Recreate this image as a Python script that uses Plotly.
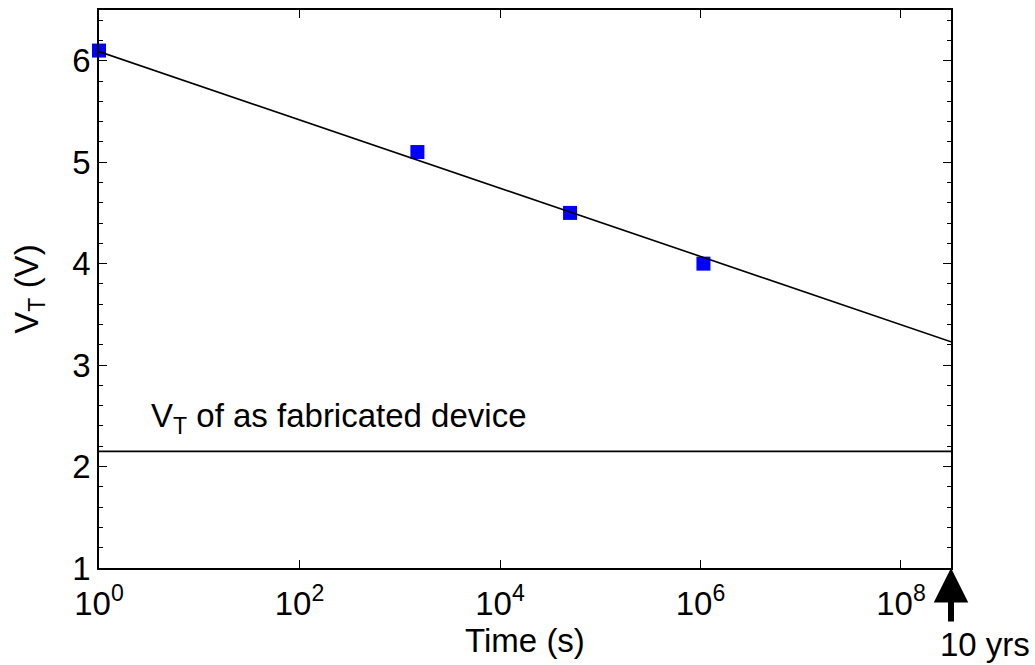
import numpy as np
import plotly.graph_objects as go

# Measured threshold voltage vs. retention time
time_s = [1, 1500, 50000, 1.07e6]
vt_v = [6.1, 5.1, 4.5, 4.0]

# Logarithmic fit, extrapolated to ten years
fit_time_s = [1, 3.1536e8]
fit_vt_v = [6.09, 3.23]

# Threshold voltage of the as-fabricated device
fab_time_s = [1, 3.1536e8]
fab_vt_v = [2.15, 2.15]

ten_years_s = 3.1536e8

x_tickvals = [1, 1e2, 1e4, 1e6, 1e8]
x_ticktext = ["10<sup>0</sup>", "10<sup>2</sup>", "10<sup>4</sup>",
              "10<sup>6</sup>", "10<sup>8</sup>"]
y_tickvals = [1, 2, 3, 4, 5, 6]

FONT = "Liberation Sans, Arial, sans-serif"
FS = 33

fig = go.Figure()

fig.add_trace(go.Scatter(
    x=time_s, y=vt_v, mode="markers",
    marker=dict(symbol="square", size=14, color="#0000ff",
                line=dict(width=0)),
    cliponaxis=False, showlegend=False,
))
fig.add_trace(go.Scatter(
    x=fit_time_s, y=fit_vt_v, mode="lines",
    line=dict(color="black", width=1.6), showlegend=False,
))
fig.add_trace(go.Scatter(
    x=fab_time_s, y=fab_vt_v, mode="lines",
    line=dict(color="black", width=1.6), showlegend=False,
))

fig.update_xaxes(
    type="log", range=[0, np.log10(ten_years_s)],
    tickvals=x_tickvals, ticktext=x_ticktext,
    ticks="inside", ticklen=8, tickwidth=1, tickcolor="black",
    ticklabelstandoff=6,
    showline=True, linecolor="black", linewidth=1.5, mirror="ticks",
    showgrid=False, zeroline=False,
    tickfont=dict(family=FONT, size=FS, color="black"),
    title=dict(text="Time (s)", font=dict(family=FONT, size=FS, color="black"),
               standoff=2),
)
fig.update_yaxes(
    range=[1, 6.5], tickvals=y_tickvals,
    ticks="inside", ticklen=8, tickwidth=1, tickcolor="black",
    minor=dict(dtick=0.2, ticks="inside", ticklen=4, tickcolor="black"),
    showline=True, linecolor="black", linewidth=1.5, mirror="ticks",
    showgrid=False, zeroline=False,
    tickfont=dict(family=FONT, size=FS, color="black"),
    title=dict(text="V<sub>T</sub> (V)",
               font=dict(family=FONT, size=FS, color="black"), standoff=24),
)

fig.add_annotation(
    xref="paper", yref="y", x=0.059, y=2.48, xanchor="left", yanchor="middle",
    text="V<sub>T</sub> of as fabricated device", showarrow=False,
    font=dict(family=FONT, size=FS, color="black"),
)
fig.add_annotation(
    xref="x", yref="paper", x=np.log10(ten_years_s), y=0, text="",
    showarrow=True, arrowhead=2, arrowsize=1.15, arrowwidth=6,
    arrowcolor="black", ax=0, ay=55,
)
fig.add_annotation(
    xref="x", yref="paper", x=np.log10(ten_years_s), y=0,
    xanchor="center", yanchor="top", xshift=34, yshift=-56,
    text="10 yrs", showarrow=False,
    font=dict(family=FONT, size=FS, color="black"),
)

fig.update_layout(
    width=1035, height=665,
    margin=dict(l=99, r=84, t=8, b=97),
    paper_bgcolor="white", plot_bgcolor="white",
    font=dict(family=FONT, color="black"),
)

fig.write_html("out.html")
